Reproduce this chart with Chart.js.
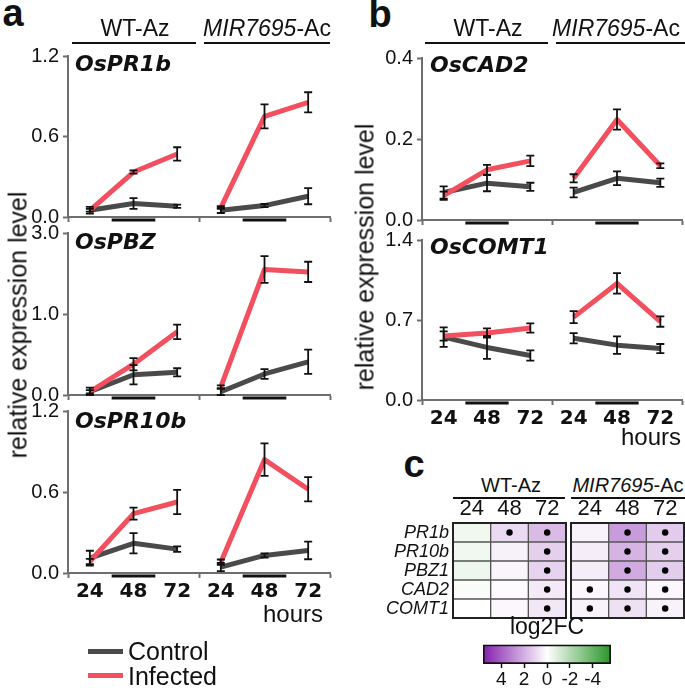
<!DOCTYPE html>
<html><head><meta charset="utf-8">
<script src="https://cdn.jsdelivr.net/npm/chart.js@4/dist/chart.umd.min.js"></script>
<style>
html,body{margin:0;padding:0;background:#fff;}
#wrap{position:relative;width:685px;height:688px;overflow:hidden;font-family:"Liberation Sans",Arial,sans-serif;color:#111;}
.t{position:absolute;white-space:nowrap;line-height:1;}
.ln{position:absolute;}
canvas{position:absolute;}
</style></head><body><div id="wrap"></div>
<script>
// ===================== DATA =====================
const hours = ['24','48','72'];
const darkHours = ['48'];             // dark-period marker under these time points
const genotypes = ['WT-Az','MIR7695-Ac'];

// panel a / b : values for [WT 24,48,72, MIR 24,48,72]
const PR1b_control     = [0.05, 0.10, 0.08, 0.05, 0.085, 0.155];
const PR1b_controlErr  = [0.025, 0.04, 0.012, 0.02, 0.012, 0.06];
const PR1b_infected    = [0.05, 0.335, 0.47, 0.07, 0.75, 0.855];
const PR1b_infectedErr = [0.01, 0.012, 0.05, 0.01, 0.09, 0.075];

const PBZ_control      = [0.04, 0.25, 0.28, 0.04, 0.26, 0.41];
const PBZ_controlErr   = [0.05, 0.12, 0.05, 0.04, 0.06, 0.15];
const PBZ_infected     = [0.04, 0.38, 0.78, 0.10, 2.10, 2.04];
const PBZ_infectedErr  = [0.02, 0.075, 0.09, 0.02, 0.33, 0.25];

const PR10b_control     = [0.11, 0.22, 0.177, 0.044, 0.13, 0.167];
const PR10b_controlErr  = [0.055, 0.075, 0.02, 0.03, 0.015, 0.065];
const PR10b_infected    = [0.085, 0.44, 0.526, 0.08, 0.84, 0.62];
const PR10b_infectedErr = [0.02, 0.045, 0.09, 0.02, 0.12, 0.09];

const CAD2_control     = [0.068, 0.091, 0.082, 0.068, 0.103, 0.092];
const CAD2_controlErr  = [0.015, 0.02, 0.01, 0.012, 0.017, 0.01];
const CAD2_infected    = [0.06, 0.124, 0.146, 0.103, 0.248, 0.134];
const CAD2_infectedErr = [0.01, 0.012, 0.013, 0.01, 0.025, 0.006];

const COMT1_control     = [0.55, 0.46, 0.39, 0.54, 0.48, 0.45];
const COMT1_controlErr  = [0.085, 0.10, 0.045, 0.045, 0.077, 0.04];
const COMT1_infected    = [0.56, 0.587, 0.63, 0.725, 1.02, 0.686];
const COMT1_infectedErr = [0.04, 0.04, 0.04, 0.053, 0.09, 0.045];

// y tick labels
const ticksPR1b  = [0, 0.6, 1.2];
const ticksPBZ   = [0, 1.0, 3.0];
const ticksPR10b = [0, 0.6, 1.2];
const ticksCAD2  = [0, 0.2, 0.4];
const ticksCOMT1 = [0, 0.7, 1.4];

// panel c : log2FC, rows = genes, cols = hours
const heatGenes = ['PR1b','PR10b','PBZ1','CAD2','COMT1'];
const fcWT  = [[-0.4,0.9,1.7],[-0.4,0.35,1.2],[-0.45,0.25,1.1],[-0.15,0.1,0.55],[0,0.2,0.6]];
const fcMIR = [[0.3,2.5,1.3],[0.45,1.9,1.2],[0.45,2.1,1.25],[0.2,0.7,0.2],[0.3,0.75,0.3]];
const sigWT  = [[0,1,1],[0,0,1],[0,0,1],[0,0,1],[0,0,1]];
const sigMIR = [[0,1,1],[0,1,1],[0,1,1],[1,1,1],[1,1,1]];
const cbTicks = [4, 2, 0, -2, -4];
const cbLimit = 5.6;

// ===================== SETUP =====================
const wrap = document.getElementById('wrap');
Chart.defaults.font.family = "'Liberation Sans', Arial, sans-serif";
Chart.defaults.color = '#111';
Chart.defaults.animation = false;
Chart.defaults.responsive = false;
Chart.defaults.plugins.legend.display = false;
Chart.defaults.plugins.tooltip.enabled = false;

const AXIS = '#6e6e6e', CTRL = '#4a4a4a', INF = '#f24f5f';
const BOLD = "'DejaVu Sans', sans-serif";
const PURPLE = [131, 31, 173], GREEN = [40, 150, 40];
function fcColor(v) {
  const t = Math.min(Math.abs(v) / cbLimit, 1);
  const c = v >= 0 ? PURPLE : GREEN;
  return 'rgb(' + c.map(ch => Math.round(255 + (ch - 255) * t)).join(',') + ')';
}

class BrokenScale extends Chart.LinearScale {
  _dec(v) {
    const b = this.options.breakAt, f = this.options.breakFraction;
    return v <= b ? f * (v - this.min) / (b - this.min) : f + (1 - f) * (v - b) / (this.max - b);
  }
  getPixelForValue(v) {
    if (v === null || isNaN(v)) return NaN;
    return this.getPixelForDecimal(this._dec(v));
  }
  getValueForPixel(p) {
    const d = this.getDecimalForPixel(p), b = this.options.breakAt, f = this.options.breakFraction;
    return d <= f ? this.min + d / f * (b - this.min) : b + (d - f) / (1 - f) * (this.max - b);
  }
}
BrokenScale.id = 'broken';
BrokenScale.defaults = {};
Chart.register(BrokenScale);

function mkCanvas(l, t, w, h) {
  const c = document.createElement('canvas');
  c.width = w; c.height = h;
  c.style.left = l + 'px'; c.style.top = t + 'px';
  c.style.width = w + 'px'; c.style.height = h + 'px';
  wrap.appendChild(c);
  return c;
}
function txt(s, x, y, o = {}) {
  const d = document.createElement('div');
  d.className = 't'; d.innerHTML = s;
  d.style.left = x + 'px'; d.style.top = y + 'px';
  d.style.fontSize = (o.size || 20) + 'px';
  if (o.bold) d.style.fontWeight = 'bold';
  if (o.italic) d.style.fontStyle = 'italic';
  if (o.family) d.style.fontFamily = o.family;
  const tx = o.align === 'left' ? '0' : o.align === 'right' ? '-100%' : '-50%';
  d.style.transform = `translate(${tx},-50%)` + (o.rotate ? ` rotate(${o.rotate}deg)` : '');
  wrap.appendChild(d);
}
function hline(x1, x2, y, h, color) {
  const d = document.createElement('div');
  d.className = 'ln';
  d.style.left = x1 + 'px'; d.style.width = (x2 - x1) + 'px';
  d.style.top = (y - h / 2) + 'px'; d.style.height = h + 'px';
  d.style.background = color;
  wrap.appendChild(d);
}

const errPlugin = {
  id: 'errbars',
  afterDatasetsDraw(chart) {
    const ctx = chart.ctx;
    ctx.save();
    ctx.strokeStyle = '#111'; ctx.lineWidth = 1.8;
    chart.data.datasets.forEach((ds, i) => {
      if (!ds.errors) return;
      const meta = chart.getDatasetMeta(i);
      const xs = chart.scales[meta.xAxisID], ys = chart.scales[meta.yAxisID];
      ds.data.forEach((p, j) => {
        const e = ds.errors[j];
        const x = xs.getPixelForValue(p.x);
        const y1 = ys.getPixelForValue(p.y + e), y2 = ys.getPixelForValue(Math.max(p.y - e, 0));
        ctx.beginPath();
        ctx.moveTo(x, y1); ctx.lineTo(x, y2);
        ctx.moveTo(x - 4, y1); ctx.lineTo(x + 4, y1);
        ctx.moveTo(x - 4, y2); ctx.lineTo(x + 4, y2);
        ctx.stroke();
      });
    });
    ctx.restore();
  }
};
const darkPlugin = {
  id: 'dark',
  afterDraw(chart) {
    const xs = chart.scales.x, ctx = chart.ctx, n = hours.length;
    const y = chart.chartArea.bottom + 3;
    ctx.save();
    ctx.strokeStyle = '#111'; ctx.lineWidth = 3;
    genotypes.forEach((g, gi) => {
      darkHours.forEach(h => {
        const c = gi * n + hours.indexOf(h) + 1;
        ctx.beginPath();
        ctx.moveTo(xs.getPixelForValue(c - 0.5), y);
        ctx.lineTo(xs.getPixelForValue(c + 0.5), y);
        ctx.stroke();
      });
    });
    ctx.restore();
  }
};

function lineChart(box, g) {
  const c = mkCanvas(box.l, box.t, box.w, box.h);
  const n = hours.length;
  const xsWT = hours.map((h, i) => i + 1), xsMIR = hours.map((h, i) => i + 1 + n);
  const mk = (vals, errs, xs, color, order) => ({
    data: xs.map((x, i) => ({x, y: vals[i]})), errors: errs,
    borderColor: color, backgroundColor: color, borderWidth: 5, pointRadius: 0,
    order, tension: 0, borderJoinStyle: 'round', clip: false
  });
  const ds = [
    mk(g.infected.slice(0, n), g.infectedErr.slice(0, n), xsWT, INF, 0),
    mk(g.infected.slice(n), g.infectedErr.slice(n), xsMIR, INF, 0),
    mk(g.control.slice(0, n), g.controlErr.slice(0, n), xsWT, CTRL, 1),
    mk(g.control.slice(n), g.controlErr.slice(n), xsMIR, CTRL, 1)
  ];
  new Chart(c, {
    type: 'line',
    data: {datasets: ds},
    options: {
      devicePixelRatio: 1,
      layout: {padding: {top: 18, right: 3, left: 0, bottom: 0}},
      scales: {
        x: {
          type: 'linear', min: 0.5, max: 2 * n + 0.5,
          afterBuildTicks: s => {
            const t = [];
            for (let k = 0; k < 2; k++) { t.push(k * n + 0.5); for (let i = 1; i <= n; i++) t.push(k * n + i); }
            t.push(2 * n + 0.5);
            s.ticks = t.map(v => ({value: v}));
          },
          ticks: {autoSkip: false, maxRotation: 0, minRotation: 0, padding: 2,
            font: {family: BOLD, weight: 'bold', size: 20}, color: '#111',
            callback: v => (g.showX && Number.isInteger(v)) ? hours[(v - 1) % n] : ''},
          grid: {drawOnChartArea: false, drawTicks: true, tickLength: 5, tickWidth: 2,
            tickColor: ctx => (ctx.tick && !Number.isInteger(ctx.tick.value)) ? AXIS : 'rgba(0,0,0,0)'},
          border: {color: AXIS, width: 2},
          afterFit: s => { s.height = g.showX ? 36 : 18; }
        },
        y: {
          type: g.scaleType || 'linear', min: 0, max: g.yTicks[g.yTicks.length - 1],
          breakAt: g.breakAt, breakFraction: 0.5,
          afterBuildTicks: s => { s.ticks = g.yTicks.map(v => ({value: v})); },
          ticks: {autoSkip: false, padding: 4, font: {size: 20}, color: '#111', callback: v => Number(v).toFixed(1)},
          grid: {drawOnChartArea: false, tickLength: 5, tickWidth: 2, tickColor: AXIS},
          border: {color: AXIS, width: 2},
          afterFit: s => { s.width = 58; }
        }
      }
    },
    plugins: [errPlugin, darkPlugin]
  });
}

// ----- panel a -----
lineChart({l: 10, t: 38, w: 323, h: 197}, {control: PR1b_control, controlErr: PR1b_controlErr, infected: PR1b_infected, infectedErr: PR1b_infectedErr, yTicks: ticksPR1b, showX: false});
lineChart({l: 10, t: 215, w: 323, h: 198}, {control: PBZ_control, controlErr: PBZ_controlErr, infected: PBZ_infected, infectedErr: PBZ_infectedErr, yTicks: ticksPBZ, scaleType: 'broken', breakAt: 1, showX: false});
lineChart({l: 10, t: 393, w: 323, h: 216}, {control: PR10b_control, controlErr: PR10b_controlErr, infected: PR10b_infected, infectedErr: PR10b_infectedErr, yTicks: ticksPR10b, showX: true});
// ----- panel b -----
lineChart({l: 364, t: 40, w: 321, h: 198}, {control: CAD2_control, controlErr: CAD2_controlErr, infected: CAD2_infected, infectedErr: CAD2_infectedErr, yTicks: ticksCAD2, showX: false});
lineChart({l: 364, t: 222, w: 321, h: 214}, {control: COMT1_control, controlErr: COMT1_controlErr, infected: COMT1_infected, infectedErr: COMT1_infectedErr, yTicks: ticksCOMT1, showX: true});

// ----- panel c heatmaps -----
function heatPlugin(sig) {
  return {
    id: 'heatDeco',
    afterDraw(chart) {
      const a = chart.chartArea, ctx = chart.ctx, xs = chart.scales.x, ys = chart.scales.y;
      ctx.save();
      ctx.fillStyle = '#000';
      sig.forEach((row, r) => row.forEach((s, ci) => {
        if (!s) return;
        ctx.beginPath();
        ctx.arc(xs.getPixelForValue(ci + 0.5), ys.getPixelForValue(r), 3.2, 0, Math.PI * 2);
        ctx.fill();
      }));
      ctx.strokeStyle = '#222'; ctx.lineWidth = 2;
      ctx.strokeRect(a.left, a.top, a.right - a.left, a.bottom - a.top);
      ctx.restore();
    }
  };
}
function heatChart(box, fc, sig, showRows) {
  const c = mkCanvas(box.l, box.t, box.w, box.h);
  const datasets = hours.map((h, ci) => ({
    label: h,
    data: heatGenes.map(() => 1),
    backgroundColor: fc.map(row => fcColor(row[ci])),
    borderColor: '#555', borderWidth: 1, borderSkipped: false,
    grouped: false, categoryPercentage: 1, barPercentage: 1
  }));
  new Chart(c, {
    type: 'bar',
    data: {labels: heatGenes, datasets},
    options: {
      indexAxis: 'y', devicePixelRatio: 1,
      layout: {padding: box.pad},
      scales: {
        x: {type: 'linear', stacked: true, position: 'top', min: 0, max: hours.length, offset: false,
          afterBuildTicks: s => { s.ticks = hours.map((h, i) => ({value: i + 0.5})); },
          ticks: {autoSkip: false, maxRotation: 0, padding: 1, font: {size: 22}, color: '#111', callback: v => hours[Math.floor(v)]},
          grid: {display: false, drawTicks: false}, border: {display: false},
          afterFit: s => { s.height = 26; }},
        y: {type: 'category', stacked: true, offset: true, display: showRows,
          ticks: {autoSkip: false, padding: 4, font: {size: 18, style: 'italic'}, color: '#111'},
          grid: {display: false, drawTicks: false}, border: {display: false},
          afterFit: s => { s.width = box.yw; }}
      }
    },
    plugins: [heatPlugin(sig)]
  });
}
heatChart({l: 385, t: 497, w: 183, h: 137, yw: 68, pad: {top: 0, right: 2, left: 0, bottom: 16}}, fcWT, sigWT, true);
heatChart({l: 569, t: 497, w: 117, h: 123, yw: 0, pad: {top: 0, right: 2, left: 2, bottom: 2}}, fcMIR, sigMIR, false);

// ----- colour bar -----
(function () {
  const c = mkCanvas(470, 614, 154, 74);
  new Chart(c, {
    type: 'bar',
    data: {labels: ['log2FC'], datasets: [{
      data: [[-cbLimit, cbLimit]],
      backgroundColor: ctx => {
        const ch = ctx.chart, a = ch.chartArea, xs = ch.scales.x;
        if (!a || !xs) return '#ddd';
        const gr = ch.ctx.createLinearGradient(a.left, 0, a.right, 0);
        for (let k = 0; k <= 40; k++) {
          const v = -cbLimit + 2 * cbLimit * k / 40;
          const p = (xs.getPixelForValue(v) - a.left) / (a.right - a.left);
          gr.addColorStop(Math.min(Math.max(p, 0), 1), fcColor(v));
        }
        return gr;
      },
      borderColor: '#111', borderWidth: 2, borderSkipped: false,
      categoryPercentage: 1, barPercentage: 1
    }]},
    options: {
      indexAxis: 'y', devicePixelRatio: 1,
      layout: {padding: {left: 13, right: 13, top: 0, bottom: 0}},
      plugins: {title: {display: true, text: 'log2FC', font: {size: 23, weight: 'normal'}, color: '#111', padding: {top: 0, bottom: 3}}},
      scales: {
        x: {type: 'linear', min: -cbLimit, max: cbLimit, reverse: true,
          afterBuildTicks: s => { s.ticks = cbTicks.map(v => ({value: v})); },
          ticks: {autoSkip: false, maxRotation: 0, padding: 0, font: {size: 19}, color: '#111', callback: v => String(v)},
          grid: {drawOnChartArea: false, tickLength: 4, tickWidth: 1.5, tickColor: '#111'},
          border: {display: false},
          afterFit: s => { s.height = 24; }},
        y: {display: false}
      }
    }
  });
})();

// ===================== TEXT =====================
txt('a', 13, 13, {size: 38, bold: true});
txt('b', 380, 14, {size: 38, bold: true});
txt('c', 414, 464, {size: 38, bold: true});

const MIRH = '<i>MIR7695</i>-Ac';
txt('WT-Az', 135, 28, {size: 23}); txt(MIRH, 267, 28, {size: 23});
hline(72, 196, 43, 2, '#111'); hline(204, 330, 43, 2, '#111');
txt('WT-Az', 488, 28, {size: 23}); txt(MIRH, 616, 28, {size: 23});
hline(425, 548, 43, 2, '#111'); hline(556, 685, 43, 2, '#111');
txt('WT-Az', 511, 485, {size: 20}); txt(MIRH, 628, 485, {size: 20});
hline(453, 565, 498, 2, '#111'); hline(571, 685, 498, 2, '#111');

const gt = {size: 22, bold: true, italic: true, family: BOLD, align: 'left'};
txt('OsPR1b', 75, 64, gt);
txt('OsPBZ', 75, 242, gt);
txt('OsPR10b', 75, 421, gt);
txt('OsCAD2', 430, 65, gt);
txt('OsCOMT1', 430, 247, gt);

txt('relative expression level', 18, 325, {size: 25, rotate: -90});
txt('relative expression level', 365, 257, {size: 25, rotate: -90});

txt('hours', 323, 614, {size: 24, align: 'right'});
txt('hours', 681, 437, {size: 24, align: 'right'});

hline(88, 123, 651.5, 5, CTRL); hline(88, 123, 675, 5, INF);
txt('Control', 128, 651, {size: 25, align: 'left'});
txt('Infected', 128, 676, {size: 25, align: 'left'});
</script></body></html>
